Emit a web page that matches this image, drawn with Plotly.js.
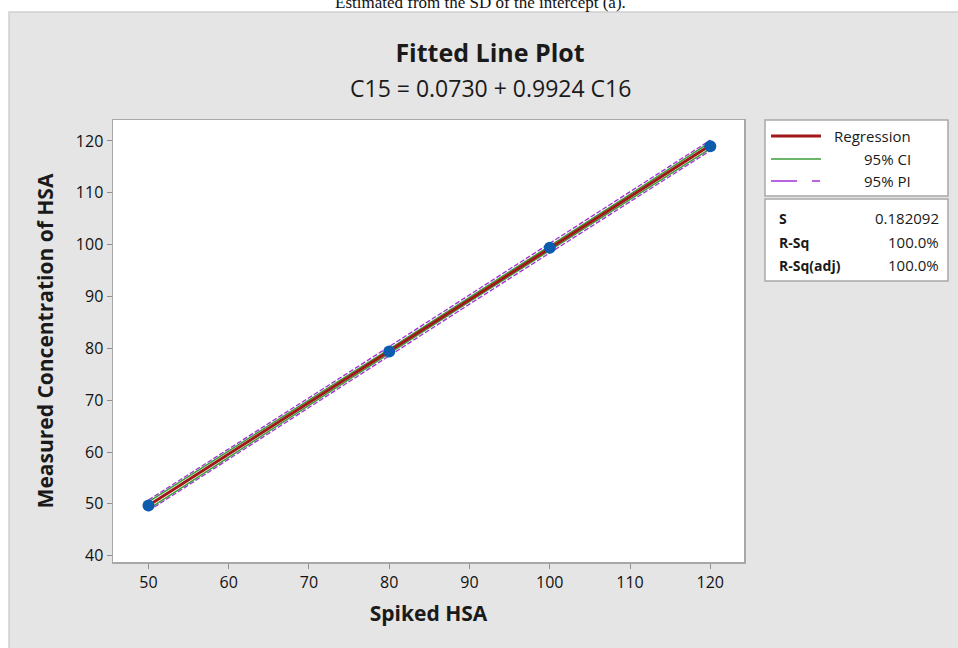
<!DOCTYPE html>
<html>
<head>
<meta charset="utf-8">
<script src="https://cdn.plot.ly/plotly-3.0.1.min.js"></script>
<style>html,body{margin:0;padding:0;background:#fff;}#chart{width:958px;height:648px;}</style>
</head>
<body>
<div id="chart"></div>
<script>
// ---- data ----
const spiked = [50, 80, 100, 120];
const measured = [49.7, 79.4, 99.4, 119.0];

const fitX = [50, 120];
const fitY = [49.69, 119.16];

const bandX = [50, 60, 70, 80, 90, 100, 110, 120];
const ciLower = [49.00, 59.05, 69.03, 79.05, 89.03, 98.88, 108.67, 118.53];
const ciUpper = [50.38, 60.19, 69.97, 79.87, 89.81, 99.74, 109.71, 119.79];
const piLower = [48.65, 58.65, 68.63, 78.58, 88.53, 98.41, 108.25, 118.16];
const piUpper = [50.73, 60.59, 70.37, 80.34, 90.31, 100.21, 110.13, 120.16];

const xTicks = [50, 60, 70, 80, 90, 100, 110, 120];
const yTicks = [40, 50, 60, 70, 80, 90, 100, 110, 120];

const mainTitle = "Fitted Line Plot";
const subTitle = "C15 = 0.0730 + 0.9924 C16";
const xTitle = "Spiked HSA";
const yTitle = "Measured Concentration of HSA";
const legendNames = ["Regression", "95% CI", "95% PI"];
const statNames = ["S", "R-Sq", "R-Sq(adj)"];
const statValues = ["0.182092", "100.0%", "100.0%"];
const topText = "Estimated from the SD of the intercept (a).";

// ---- layout helpers (pixel -> paper) ----
const L = 113, R = 744, T = 120, B = 562, W = 958, H = 648;
const px = v => (v - L) / (R - L);
const py = v => (B - v) / (B - T);

const FONT = "Open Sans, Noto Sans, sans-serif";
const RED = "#a01818", GREEN = "#3a9e3a", PURPLE = "#a02fd6", BLUE = "#0b5cad";

const traces = [
  {x: bandX, y: piLower, mode: "lines", line: {color: PURPLE, width: 1.3, dash: "5px,2px"}, hoverinfo: "skip"},
  {x: bandX, y: piUpper, mode: "lines", line: {color: PURPLE, width: 1.3, dash: "5px,2px"}, hoverinfo: "skip"},
  {x: bandX, y: ciLower, mode: "lines", line: {color: GREEN, width: 1.5}, hoverinfo: "skip"},
  {x: bandX, y: ciUpper, mode: "lines", line: {color: GREEN, width: 1.5}, hoverinfo: "skip"},
  {x: fitX, y: fitY, mode: "lines", line: {color: RED, width: 3}},
  {x: spiked, y: measured, mode: "markers", marker: {color: BLUE, size: 12}}
];

const shapes = [
  {type: "rect", xref: "paper", yref: "paper", layer: "below",
   x0: px(9), x1: px(959), y0: py(649), y1: py(12),
   fillcolor: "#e5e5e5", line: {color: "#cfcfcf", width: 1.5}},
  {type: "rect", xref: "paper", yref: "paper", layer: "below",
   x0: 0, x1: 1, y0: 0, y1: 1, fillcolor: "#ffffff", line: {width: 0}},
  {type: "rect", xref: "paper", yref: "paper", layer: "below",
   x0: px(765), x1: px(948), y0: py(196), y1: py(120),
   fillcolor: "#ffffff", line: {color: "#a8a8a8", width: 1.5}},
  {type: "rect", xref: "paper", yref: "paper", layer: "below",
   x0: px(765), x1: px(948), y0: py(281), y1: py(199),
   fillcolor: "#ffffff", line: {color: "#a8a8a8", width: 1.5}},
  {type: "line", xref: "paper", yref: "paper", x0: px(771), x1: px(821), y0: py(136), y1: py(136), line: {color: RED, width: 3}},
  {type: "line", xref: "paper", yref: "paper", x0: px(771), x1: px(821), y0: py(159), y1: py(159), line: {color: GREEN, width: 1.5}},
  {type: "line", xref: "paper", yref: "paper", x0: px(771), x1: px(797), y0: py(181), y1: py(181), line: {color: PURPLE, width: 1.5}},
  {type: "line", xref: "paper", yref: "paper", x0: px(812), x1: px(820), y0: py(181), y1: py(181), line: {color: PURPLE, width: 1.5}}
];

const annotations = [
  {text: topText, xref: "paper", yref: "paper", x: px(480), y: py(2), xanchor: "center", yanchor: "middle",
   showarrow: false, font: {family: "Liberation Serif, serif", size: 17, color: "#111"}},
  {text: subTitle, xref: "paper", yref: "paper", x: px(490), y: py(88), xanchor: "center", yanchor: "middle",
   showarrow: false, font: {family: FONT, size: 23, color: "#1a1a1a"}}
];
const legY = [136, 159, 181];
legendNames.forEach((n, i) => annotations.push({
  text: n, xref: "paper", yref: "paper", x: px(913), y: py(legY[i]), xanchor: "right", yanchor: "middle",
  showarrow: false, font: {family: FONT, size: 15, color: "#1a1a1a"}}));
const statY = [218, 242, 265];
statNames.forEach((n, i) => {
  annotations.push({text: "<b>" + n + "</b>", xref: "paper", yref: "paper", x: px(777), y: py(statY[i]),
    xanchor: "left", yanchor: "middle", showarrow: false, font: {family: FONT, size: 14, color: "#1a1a1a"}});
  annotations.push({text: statValues[i], xref: "paper", yref: "paper", x: px(941), y: py(statY[i]),
    xanchor: "right", yanchor: "middle", showarrow: false, font: {family: FONT, size: 15, color: "#1a1a1a"}});
});

const axisCommon = {
  showgrid: false, zeroline: false, showline: true, mirror: true,
  linecolor: "#a8a8a8", linewidth: 1.5, ticks: "outside", ticklen: 5, tickwidth: 1, tickcolor: "#909090",
  tickfont: {family: FONT, size: 16, color: "#111111"}, tickmode: "array"
};

const layout = {
  width: W, height: H,
  margin: {l: L, r: W - R, t: T, b: H - B, pad: 0},
  paper_bgcolor: "#ffffff", plot_bgcolor: "rgba(0,0,0,0)",
  showlegend: false,
  title: {text: "<b>" + mainTitle + "</b>", x: 490 / W, xanchor: "center", y: 1 - 53 / H, yanchor: "middle",
          xref: "container", yref: "container", font: {family: FONT, size: 25, color: "#1a1a1a"}},
  xaxis: Object.assign({}, axisCommon, {range: [45.58, 124.2], tickvals: xTicks, ticktext: xTicks.map(String),
    title: {text: "<b>" + xTitle + "</b>", standoff: 14, font: {family: FONT, size: 21, color: "#1a1a1a"}}}),
  yaxis: Object.assign({}, axisCommon, {range: [38.78, 124.05], tickvals: yTicks, ticktext: yTicks.map(String),
    title: {text: "<b>" + yTitle + "</b>", standoff: 16, font: {family: FONT, size: 21, color: "#1a1a1a"}}}),
  shapes: shapes,
  annotations: annotations
};

Plotly.newPlot("chart", traces, layout, {displayModeBar: false, staticPlot: true});
</script>
</body>
</html>
